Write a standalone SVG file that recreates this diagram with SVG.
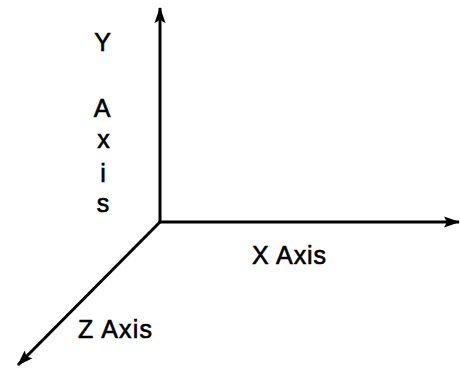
<svg xmlns="http://www.w3.org/2000/svg" width="460" height="368" viewBox="0 0 460 368">
<style>
.ax{stroke:#000;stroke-width:3;fill:none}
.t{font-family:"Liberation Sans",Arial,sans-serif;font-size:25px;fill:#000;stroke:#000;stroke-width:0.6}
</style>
<defs>
<marker id="ah" markerUnits="userSpaceOnUse" markerWidth="16" markerHeight="12" refX="15" refY="6" orient="auto">
<path d="M0,0.5 L16,6 L0,11.5 L3,6 Z" fill="#000"/>
</marker>
</defs>
<rect width="460" height="368" fill="#fff"/>
<g id="connectors">
<line class="ax" x1="160" y1="222" x2="160" y2="8" marker-end="url(#ah)"/>
<line class="ax" x1="158.5" y1="222" x2="459" y2="222" marker-end="url(#ah)"/>
<line class="ax" x1="160" y1="222" x2="18" y2="365" marker-end="url(#ah)"/>
</g>
<g id="y-label">
<text class="t" x="102.5" y="51" text-anchor="middle">Y</text>
<text class="t" x="102" y="117" text-anchor="middle">A</text>
<text class="t" x="103.5" y="148" text-anchor="middle">x</text>
<text class="t" x="103" y="182" text-anchor="middle">i</text>
<text class="t" x="103" y="212" text-anchor="middle">s</text>
</g>
<g id="x-label">
<text class="t" x="252" y="264" textLength="74">X Axis</text>
</g>
<g id="z-label">
<text class="t" x="78" y="338" textLength="74">Z Axis</text>
</g>
</svg>
